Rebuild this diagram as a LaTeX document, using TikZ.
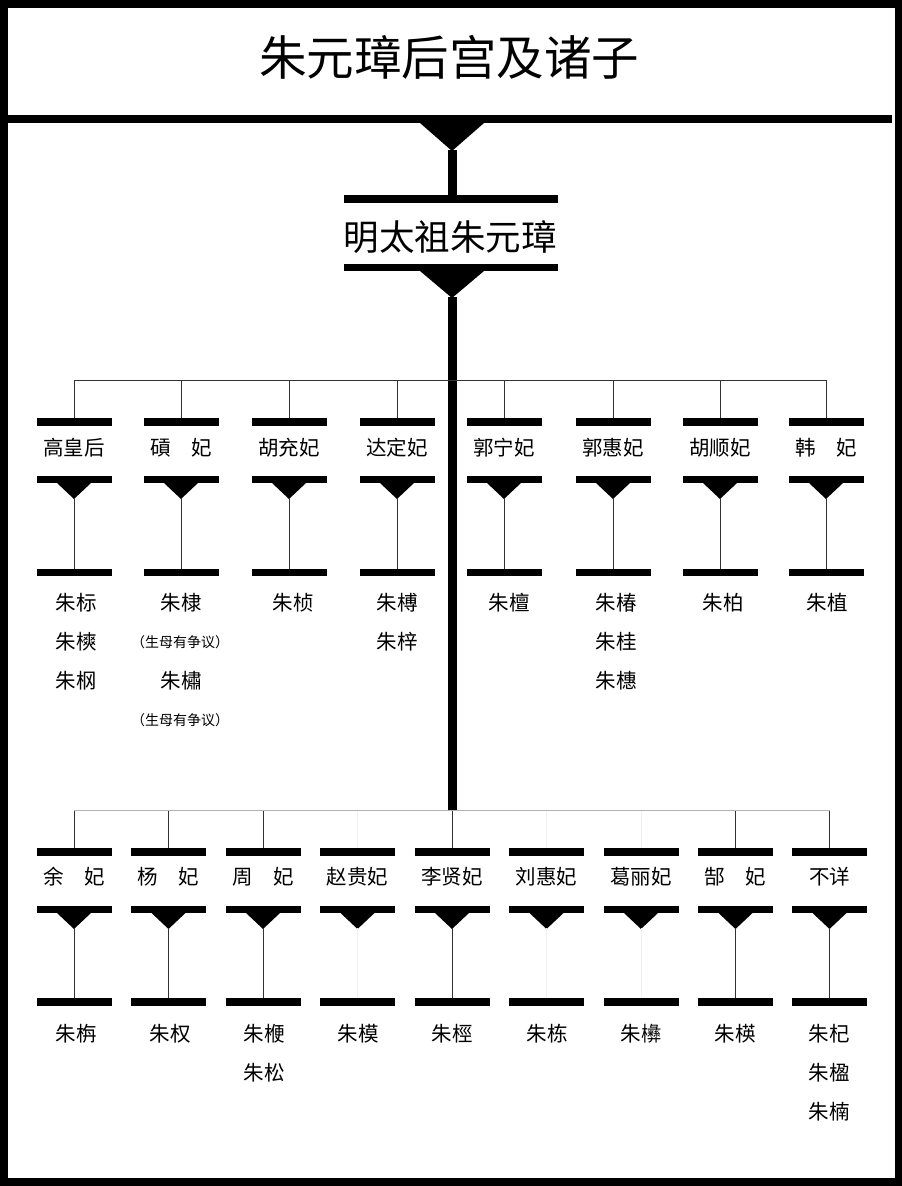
\documentclass[tikz,border=0pt]{standalone}
\usepackage{fontspec}
\setmainfont{Noto Sans CJK SC}
\newcommand\mybar[3]{\fill (#1-37.5,#2) rectangle (#1+37.5,#3);}
\newcommand\mytri[2]{\fill (#1-17,#2) -- (#1+17,#2) -- (#1,#2+16) -- cycle;}
\begin{document}
\begin{tikzpicture}[x=1pt,y=-1pt,
  lbl/.style={font=\fontsize{20.5}{22}\selectfont, inner sep=0pt},
  note/.style={font=\fontsize{14}{15}\selectfont, inner sep=0pt},
  link/.style={line width=0.8pt, draw=black!80},
  glink/.style={line width=0.8pt, draw=black!30},
  faint/.style={line width=0.8pt, draw=black!6},
  trunk/.style={line width=9pt, draw=black},
]
% frame
\fill[black] (0,0) rectangle (902,1186);
\fill[white] (8,8) rectangle (895,1178);
\useasboundingbox (0,0) rectangle (902,1186);

% title
\node[font=\fontsize{47.5}{52}\selectfont, inner sep=0pt] (title) at (449,57) {朱元璋后宫及诸子};
\fill (8,115) rectangle (892,123);
\fill (420,123) -- (484,123) -- (452,151) -- cycle;
\coordinate (titletip) at (452,150);

% emperor
\fill (344,195) rectangle (558,203);
\coordinate (emptop) at (452,196);
\node[font=\fontsize{35.5}{40}\selectfont, inner sep=0pt] (emp) at (450,237) {明太祖朱元璋};
\fill (344,264) rectangle (558,271);
\fill (420,271) -- (484,271) -- (452,298) -- cycle;
\coordinate (emptip) at (452,297);
\coordinate (trunkend) at (452,811);
\draw[trunk] (titletip) -- (emptop);
\draw[trunk] (emptip) -- (trunkend);

% ---------- row 1 ----------
\foreach \x/\n [count=\i] in {74/高皇后,181/碽　妃,289/胡充妃,397/达定妃,504/郭宁妃,613/郭惠妃,720/胡顺妃,826/韩　妃}{
  \coordinate (aj\i) at (\x,380);
  \coordinate (at\i) at (\x,418);
  \mybar{\x}{418}{426}
  \node[lbl] (an\i) at (\x,448) {\n};
  \mybar{\x}{476}{483}
  \mytri{\x}{483}
  \coordinate (ap\i) at (\x,498);
  \coordinate (ab\i) at (\x,569);
  \mybar{\x}{569}{576}
  \draw[link] (aj\i) -- (at\i);
  \draw[link] (ap\i) -- (ab\i);
}
\draw[link] (aj1) -- (aj8);

% row 1 children
\node[lbl] (k11) at (76,603) {朱标};
\node[lbl] (k12) at (76,642) {朱樉};
\node[lbl] (k13) at (76,681) {朱㭎};
\node[lbl] (k21) at (181,603) {朱棣};
\node[note] (k22) at (180,642) {（生母有争议）};
\node[lbl] (k23) at (181,681) {朱橚};
\node[note] (k24) at (180,720) {（生母有争议）};
\node[lbl] (k31) at (293,603) {朱桢};
\node[lbl] (k41) at (397,603) {朱榑};
\node[lbl] (k42) at (397,642) {朱梓};
\node[lbl] (k51) at (509,603) {朱檀};
\node[lbl] (k61) at (616,603) {朱椿};
\node[lbl] (k62) at (616,642) {朱桂};
\node[lbl] (k63) at (616,681) {朱橞};
\node[lbl] (k71) at (723,603) {朱柏};
\node[lbl] (k81) at (827,603) {朱植};

% ---------- row 2 ----------
\foreach \x/\n/\s [count=\i] in {74/余　妃/link,168.5/杨　妃/link,263/周　妃/link,357.5/赵贵妃/faint,452/李贤妃/link,546.5/刘惠妃/faint,641/葛丽妃/faint,735.5/郜　妃/link,829.5/不详/link}{
  \coordinate (bj\i) at (\x,810);
  \coordinate (bt\i) at (\x,848);
  \mybar{\x}{848}{856}
  \node[lbl] (bn\i) at (\x,877) {\n};
  \mybar{\x}{906}{913}
  \mytri{\x}{913}
  \coordinate (bp\i) at (\x,928);
  \coordinate (bb\i) at (\x,998);
  \mybar{\x}{998}{1006}
  \draw[\s] (bj\i) -- (bt\i);
  \draw[\s] (bp\i) -- (bb\i);
}
\draw[glink] (bj1) -- (bj9);

% row 2 children
\node[lbl] (m11) at (76,1034) {朱栴};
\node[lbl] (m21) at (170,1034) {朱权};
\node[lbl] (m31) at (264,1034) {朱楩};
\node[lbl] (m32) at (264,1073) {朱松};
\node[lbl] (m41) at (358,1034) {朱模};
\node[lbl] (m51) at (452,1034) {朱桱};
\node[lbl] (m61) at (547,1034) {朱栋};
\node[lbl] (m71) at (641,1034) {朱㰘};
\node[lbl] (m81) at (735,1034) {朱楧};
\node[lbl] (m91) at (829,1034) {朱杞};
\node[lbl] (m92) at (829,1073) {朱楹};
\node[lbl] (m93) at (829,1112) {朱楠};
\end{tikzpicture}
\end{document}
